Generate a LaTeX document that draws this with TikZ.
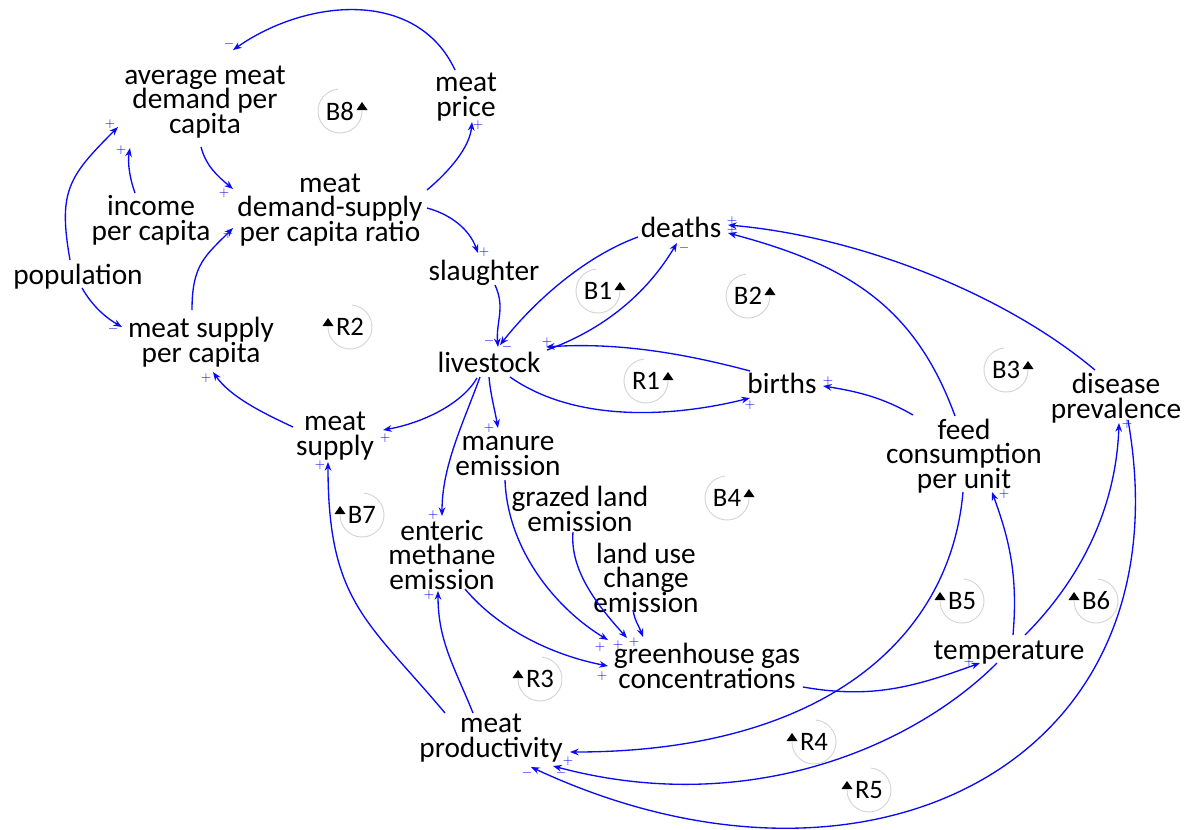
\documentclass[tikz,border=0pt]{standalone}
\usepackage{fontspec}
\setmainfont{Carlito}
\usetikzlibrary{arrows.meta}
\definecolor{lkblue}{RGB}{10,10,245}
\definecolor{loopgray}{RGB}{212,212,212}
\newcommand{\vfont}{\fontsize{22}{18.4}\selectfont\lineskiplimit=-30pt\relax}
\newcommand{\mystrut}{\rule[-3.3pt]{0pt}{18.4pt}}
\tikzset{
  vn/.style={font=\vfont, align=center, inner sep=0pt, text=black,
             execute at begin node=\mystrut, execute at end node=\mystrut},
  lk/.style={draw=lkblue, line width=1pt, -{Stealth[length=6.5pt,width=5pt]}},
  sg/.style={font=\fontsize{10}{10}\selectfont, text=lkblue, inner sep=0pt},
  lp/.style={font=\fontsize{20}{20}\selectfont, inner sep=0pt, text=black},
  lc/.style={draw=loopgray, line width=0.7pt}
}
\newcommand{\loopR}[4]{\node[lp] (#1) at (#2,#3) {#4};
  \draw[lc] ([shift={(95:22)}]#1.center) arc[start angle=95,end angle=360,radius=22];
  \fill ([shift={(22,1)}]#1.center) +(-5.5,0) -- +(5.5,0) -- +(0,8) -- cycle;}
\newcommand{\loopL}[4]{\node[lp] (#1) at (#2,#3) {#4};
  \draw[lc] ([shift={(85:22)}]#1.center) arc[start angle=85,end angle=-180,radius=22];
  \fill ([shift={(-22,1)}]#1.center) +(-5.5,0) -- +(5.5,0) -- +(0,8) -- cycle;}
\begin{document}
\begin{tikzpicture}[x=0.75pt,y=0.75pt]
\useasboundingbox (0,0) rectangle (1189,-829);
% variables
\node[vn] (avg) at (205,-102) {average meat\\demand per\\capita};
\node[vn] (price) at (466,-97) {meat\\price};
\node[vn] (income) at (151,-220) {income\\per capita};
\node[vn] (ratio) at (330,-210) {meat\\demand-supply\\per capita ratio};
\node[vn] (pop) at (78,-277) {population};
\node[vn] (slaughter) at (484,-273) {slaughter};
\node[vn] (mspc) at (201,-342) {meat supply\\per capita};
\node[vn] (livestock) at (489,-365) {livestock};
\node[vn] (deaths) at (681,-230) {deaths};
\node[vn] (births) at (782,-386) {births};
\node[vn] (msupply) at (335,-436) {meat\\supply};
\node[vn] (manure) at (508,-458) {manure\\emission};
\node[vn] (feed) at (964,-456) {feed\\consumption\\per unit};
\node[vn] (disease) at (1116,-398) {disease\\prevalence};
\node[vn] (grazed) at (580,-511) {grazed land\\emission};
\node[vn] (enteric) at (442,-557) {enteric\\methane\\emission};
\node[vn] (landuse) at (646,-580) {land use\\change\\emission};
\node[vn] (ghg) at (707,-668) {greenhouse gas\\concentrations};
\node[vn] (temp) at (1009,-652) {temperature};
\node[vn] (prod) at (491,-738) {meat\\productivity};

% links
\draw[lk] ([shift={(-11,27)}]price.center) .. controls +(115:90) and +(35:90) .. ([shift={(28,52)}]avg.center);
\draw[lk] ([shift={(-4,-45)}]avg.center) .. controls +(-75:20) and +(140:20) .. ([shift={(-97,21)}]ratio.center);
\draw[lk] ([shift={(97,20)}]ratio.center) .. controls +(40:30) and +(-95:25) .. ([shift={(6,-25)}]price.center);
\draw[lk] ([shift={(97,2)}]ratio.center) .. controls +(-15:25) and +(110:25) .. ([shift={(-6,20)}]slaughter.center);
\draw[lk] ([shift={(-16,27)}]income.center) .. controls +(110:15) and +(-100:15) .. ([shift={(-75,-46)}]avg.center);
\draw[lk] ([shift={(-8,17)}]pop.center) .. controls +(100:70) and +(225:70) .. ([shift={(-87,-25)}]avg.center);
\draw[lk] ([shift={(4,-11)}]pop.center) .. controls +(-60:20) and +(150:20) .. ([shift={(-79,15)}]mspc.center);
\draw[lk] ([shift={(-9,32)}]mspc.center) .. controls +(90:45) and +(225:40) .. ([shift={(-97,-18)}]ratio.center);
\draw[lk] ([shift={(11,-12)}]slaughter.center) .. controls +(-65:25) and +(95:25) .. ([shift={(9,18)}]livestock.center);
\draw[lk] ([shift={(-43,-7)}]deaths.center) .. controls +(200:60) and +(52:50) .. ([shift={(11,20)}]livestock.center);
\draw[lk] ([shift={(58,15)}]livestock.center) .. controls +(20:60) and +(239:60) .. ([shift={(-4,-13)}]deaths.center);
\draw[lk] ([shift={(-32,15)}]births.center) .. controls +(165:70) and +(4:70) .. ([shift={(57,18)}]livestock.center);
\draw[lk] ([shift={(21,-12)}]livestock.center) .. controls +(-35:80) and +(194:80) .. ([shift={(-32,-12)}]births.center);
\draw[lk] ([shift={(-51,41)}]feed.center) .. controls +(150:35) and +(-9:35) .. ([shift={(41,0)}]births.center);
\draw[lk] ([shift={(-9,40)}]feed.center) .. controls +(110:120) and +(-15:120) .. ([shift={(47,-3)}]deaths.center);
\draw[lk] ([shift={(-21,28)}]disease.center) .. controls +(140:120) and +(-5:130) .. ([shift={(47,5)}]deaths.center);
\draw[lk] ([shift={(-12,-13)}]livestock.center) .. controls +(-120:30) and +(10:40) .. ([shift={(48,6)}]msupply.center);
\draw[lk] ([shift={(0,-12)}]livestock.center) .. controls +(-85:18) and +(100:18) .. ([shift={(-10,30)}]manure.center);
\draw[lk] ([shift={(-9,-12)}]livestock.center) .. controls +(-110:50) and +(90:50) .. ([shift={(0,41)}]enteric.center);
\draw[lk] ([shift={(-42,9)}]msupply.center) .. controls +(155:35) and +(-55:30) .. ([shift={(12,-30)}]mspc.center);
\draw[lk] ([shift={(-46,25)}]prod.center) .. controls +(130:120) and +(-90:140) .. ([shift={(-7,-26)}]msupply.center);
\draw[lk] ([shift={(-18,25)}]prod.center) .. controls +(112:50) and +(-90:50) .. ([shift={(-4,-34)}]enteric.center);
\draw[lk] ([shift={(-3,-22)}]manure.center) .. controls +(-88:70) and +(149:60) .. ([shift={(-99,28)}]ghg.center);
\draw[lk] ([shift={(-7,-21)}]grazed.center) .. controls +(-95:40) and +(132:40) .. ([shift={(-80,30)}]ghg.center);
\draw[lk] ([shift={(-13,-30)}]landuse.center) .. controls +(-80:12) and +(110:12) .. ([shift={(-64,31)}]ghg.center);
\draw[lk] ([shift={(23,-32)}]enteric.center) .. controls +(-50:50) and +(169:60) .. ([shift={(-99,2)}]ghg.center);
\draw[lk] ([shift={(96,-19)}]ghg.center) .. controls +(-10:70) and +(200:70) .. ([shift={(-29,-11)}]temp.center);
\draw[lk] ([shift={(4,17)}]temp.center) .. controls +(85:60) and +(-70:50) .. ([shift={(28,-36)}]feed.center);
\draw[lk] ([shift={(16,17)}]temp.center) .. controls +(45:60) and +(-92:100) .. ([shift={(3,-25)}]disease.center);
\draw[lk] ([shift={(-1,-36)}]feed.center) .. controls +(-95:150) and +(0:250) .. ([shift={(79,-14)}]prod.center);
\draw[lk] ([shift={(-12,-11)}]temp.center) .. controls +(225:120) and +(-15:200) .. ([shift={(62,-28)}]prod.center);
\draw[lk] ([shift={(12,-22)}]disease.center) .. controls +(-80:350) and +(-25:370) .. ([shift={(40,-29)}]prod.center);

% polarity signs
\node[sg] (s1) at (229,-44) {$-$};
\node[sg] (s2) at (224,-193) {$+$};
\node[sg] (s3) at (478,-125) {$+$};
\node[sg] (s4) at (484,-252) {$+$};
\node[sg] (s5) at (121,-150) {$+$};
\node[sg] (s6) at (110,-124) {$+$};
\node[sg] (s7) at (113,-329) {$-$};
\node[sg] (s8) at (228,-234) {$+$};
\node[sg] (s9) at (489,-341) {$-$};
\node[sg] (s10) at (507,-347) {$-$};
\node[sg] (s11) at (684,-248) {$-$};
\node[sg] (s12) at (547,-342) {$+$};
\node[sg] (s13) at (750,-405) {$+$};
\node[sg] (s14) at (828,-381) {$+$};
\node[sg] (s15) at (732,-230) {$+$};
\node[sg] (s16) at (732,-221) {$+$};
\node[sg] (s17) at (385,-438) {$+$};
\node[sg] (s18) at (489,-428) {$+$};
\node[sg] (s19) at (433,-515) {$+$};
\node[sg] (s20) at (206,-378) {$+$};
\node[sg] (s21) at (320,-465) {$+$};
\node[sg] (s22) at (429,-595) {$+$};
\node[sg] (s23) at (600,-647) {$+$};
\node[sg] (s24) at (618,-645) {$+$};
\node[sg] (s25) at (634,-642) {$+$};
\node[sg] (s26) at (602,-676) {$+$};
\node[sg] (s27) at (969,-662) {$+$};
\node[sg] (s28) at (1004,-494) {$+$};
\node[sg] (s29) at (1127,-424) {$+$};
\node[sg] (s30) at (568,-761) {$+$};
\node[sg] (s31) at (561,-773) {$-$};
\node[sg] (s32) at (527,-773) {$-$};

% loop markers
\loopR{B8}{340}{-111}{B8}
\loopR{B1}{598}{-291}{B1}
\loopR{B2}{748}{-296}{B2}
\loopR{R1}{646}{-381}{R1}
\loopR{B3}{1006}{-370}{B3}
\loopR{B4}{727}{-498}{B4}
\loopL{R2}{350}{-327}{R2}
\loopL{B7}{362}{-515}{B7}
\loopL{B5}{962}{-601}{B5}
\loopL{B6}{1096}{-601}{B6}
\loopL{R3}{540}{-679}{R3}
\loopL{R4}{814}{-742}{R4}
\loopL{R5}{869}{-790}{R5}
\end{tikzpicture}
\end{document}
